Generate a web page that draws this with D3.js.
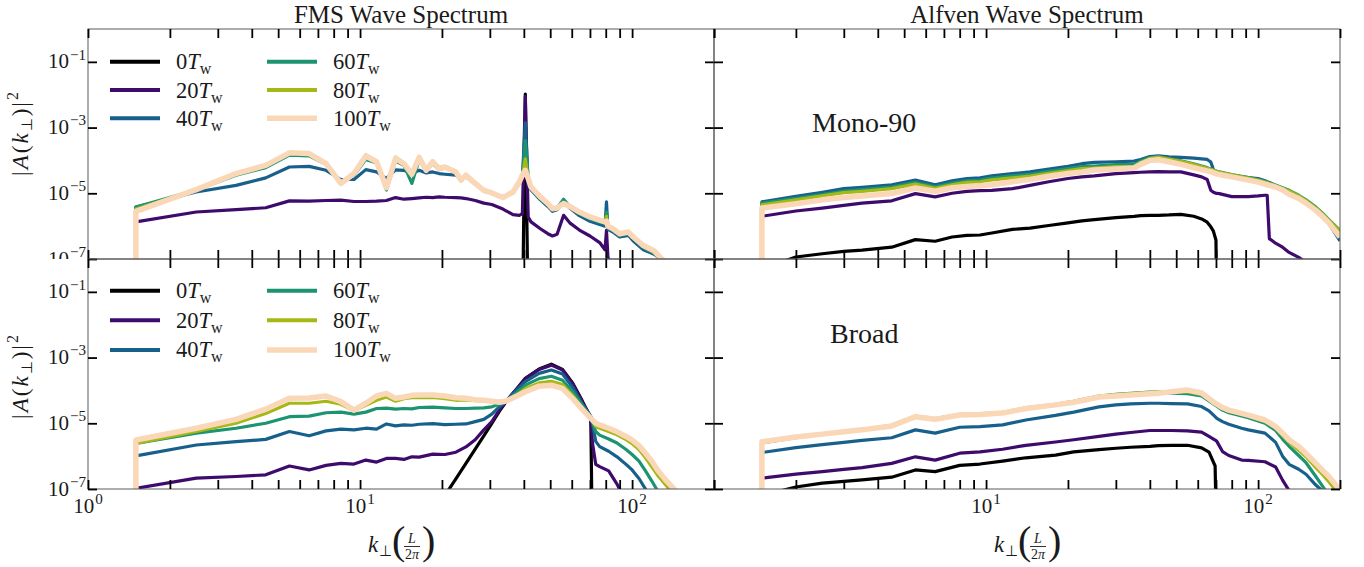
<!DOCTYPE html>
<html><head><meta charset="utf-8">
<script src="https://cdn.jsdelivr.net/npm/d3@7"></script>
<style>
body{margin:0;background:#fff}
svg{display:block}
text{font-family:'Liberation Serif','Times New Roman',serif;fill:#1a1a1a}
</style>
</head><body>
<svg id="chart" width="1364" height="567"></svg>
<script>
// ---------------- DATA (spectral values stored as log10 |A(k)|^2) ----------------
const timeLabels = ['0', '20', '40', '60', '80', '100'];
const panelTitles = ['FMS Wave Spectrum', 'Alfven Wave Spectrum'];
const caseLabels = ['Mono-90', 'Broad'];
const xTickLabelValues = [1, 10, 100];
const yTickValues = [1e-1, 1e-3, 1e-5, 1e-7];
const yTickExponents = ['\u22121', '\u22123', '\u22125', '\u22127'];

// FMS spectrum, Mono-90 case
const kFmsMono = [1.5,1.5,2.5,3.5,4.5,5.5,6.5,7.5,8.5,9.5,
 10.5,11.5,12.5,13.5,14.5,15.5,16.5,17.5,18.5,19.5,
 20.5,22.5,23.5,24.5,26.5,28.5,30.5,33.5,36.5,38.5,
 39.5,40.5,41.5,42.5,46,49,51,53,56,59,
 64,70,76,79.5,80.5,81.5,85,90,97,101,
 110,120,130,140,150];
const fmsMono0T = [
 -9,-9,-9,-9,-9,-9,-9,-9,-9,-9,
 -9,-9,-9,-9,-9,-9,-9,-9,-9,-9,
 -9,-9,-9,-9,-9,-9,-9,-9,-9,-9,
 -9,-1.98,-9,-9,-9,-9,-9,-9,-9,-9,
 -9,-9,-9,-9,-9,-9,-9,-9,-9,-9,
 -9,-9,-9,-9,-9];
const fmsMono20T = [
 -9,-5.87,-5.57,-5.50,-5.44,-5.23,-5.24,-5.22,-5.21,-5.25,
 -5.25,-5.24,-5.22,-5.13,-5.18,-5.16,-5.14,-5.12,-5.13,-5.11,
 -5.12,-5.13,-5.14,-5.16,-5.22,-5.30,-5.34,-5.48,-5.65,-5.67,
 -5.62,-2.05,-5.72,-5.87,-6.08,-6.23,-6.30,-6.25,-5.67,-5.90,
 -6.12,-6.30,-6.50,-6.72,-6.13,-6.95,-7.30,-7.60,-8.0,-8.2,
 -8.5,-8.8,-9,-9,-9];
const fmsMono40T = [
 -9,-5.42,-4.96,-4.76,-4.53,-4.20,-4.18,-4.30,-4.58,-4.58,
 -4.28,-4.35,-4.55,-4.29,-4.30,-4.40,-4.30,-4.38,-4.35,-4.40,
 -4.42,-4.45,-4.55,-4.50,-4.72,-4.93,-5.00,-5.14,-4.98,-4.70,
 -4.50,-2.85,-4.65,-4.90,-5.20,-5.40,-5.55,-5.50,-5.25,-5.45,
 -5.68,-5.85,-5.95,-6.00,-5.26,-6.10,-6.18,-6.33,-6.28,-6.45,
 -6.72,-6.85,-7.00,-7.30,-7.60];
const fmsMono60T = [
 -9,-5.42,-4.90,-4.45,-4.22,-3.84,-3.86,-4.12,-4.66,-4.45,
 -3.97,-4.08,-4.90,-4.02,-4.15,-4.70,-3.98,-4.30,-4.10,-4.28,
 -4.22,-4.38,-4.62,-4.47,-4.71,-4.92,-5.00,-5.14,-4.98,-4.68,
 -4.50,-3.40,-4.60,-4.85,-5.15,-5.36,-5.50,-5.45,-5.18,-5.40,
 -5.62,-5.78,-5.88,-5.92,-5.57,-6.05,-6.12,-6.28,-6.22,-6.38,
 -6.65,-6.82,-7.10,-7.40,-7.70];
const fmsMono80T = [
 -9,-5.48,-4.89,-4.42,-4.17,-3.76,-3.79,-4.10,-4.70,-4.38,
 -3.83,-4.02,-4.80,-3.90,-4.08,-4.42,-3.88,-4.28,-4.02,-4.22,
 -4.18,-4.33,-4.58,-4.43,-4.69,-4.90,-4.98,-5.12,-4.96,-4.65,
 -4.46,-3.95,-4.56,-4.82,-5.12,-5.32,-5.48,-5.47,-5.30,-5.40,
 -5.58,-5.74,-5.84,-5.89,-5.70,-6.02,-6.09,-6.25,-6.20,-6.35,
 -6.62,-6.78,-7.06,-7.35,-7.65];
const fmsMono100T = [
 -9,-5.55,-4.89,-4.40,-4.15,-3.77,-3.79,-4.10,-4.70,-4.40,
 -3.87,-4.04,-4.83,-3.94,-4.10,-4.42,-3.91,-4.30,-4.04,-4.25,
 -4.20,-4.35,-4.60,-4.45,-4.70,-4.91,-4.99,-5.13,-4.96,-4.65,
 -4.45,-4.30,-4.55,-4.81,-5.11,-5.31,-5.47,-5.45,-5.31,-5.40,
 -5.57,-5.72,-5.82,-5.87,-5.85,-6.00,-6.08,-6.23,-6.18,-6.33,
 -6.59,-6.74,-7.04,-7.30,-7.60];

// Alfven spectrum, Mono-90 case
const kAlfMono = [1.5,1.5,2,2.5,3,3.5,4.5,5.5,6.5,7.5,
 8.5,9.5,10.5,12.5,14.5,17,20,22.5,25,30,
 35,37,40,43,47,52,58,62,65,67,
 68.5,70,70.5,72,80,92,100,106,108,110,
 115,123,130,141,150,163,172,182,200];
const alfMono0T = [
 -9,-7.3,-6.94,-6.84,-6.77,-6.73,-6.64,-6.41,-6.46,-6.33,
 -6.28,-6.27,-6.21,-6.10,-6.06,-5.98,-5.90,-5.84,-5.80,-5.74,
 -5.70,-5.68,-5.67,-5.67,-5.66,-5.64,-5.70,-5.78,-5.88,-6.02,
 -6.15,-6.43,-9,-9,-9,-9,-9,-9,-9,-9,
 -9,-9,-9,-9,-9,-9,-9,-9,-9];
const alfMono20T = [
 -9,-5.70,-5.54,-5.45,-5.37,-5.30,-5.23,-5.01,-5.11,-5.00,
 -4.94,-4.92,-4.91,-4.86,-4.76,-4.65,-4.55,-4.50,-4.47,-4.40,
 -4.37,-4.36,-4.35,-4.34,-4.35,-4.35,-4.44,-4.50,-4.58,-4.91,
 -4.97,-5.00,-5.00,-5.01,-5.10,-5.10,-5.08,-5.06,-5.06,-6.38,
 -6.50,-6.64,-6.80,-6.95,-7.10,-7.30,-7.45,-7.60,-7.90];
const alfMono40T = [
 -9,-5.26,-5.09,-4.97,-4.86,-4.82,-4.74,-4.60,-4.74,-4.62,
 -4.55,-4.53,-4.47,-4.40,-4.35,-4.26,-4.18,-4.10,-4.06,-4.04,
 -4.02,-3.97,-3.88,-3.86,-3.89,-3.91,-3.93,-3.95,-3.97,-4.05,
 -4.28,-4.33,-4.35,-4.38,-4.45,-4.52,-4.55,-4.62,-4.65,-4.67,
 -4.75,-4.86,-4.93,-5.11,-5.28,-5.52,-5.72,-5.92,-6.45];
const alfMono60T = [
 -9,-5.30,-5.15,-5.04,-4.93,-4.89,-4.81,-4.67,-4.80,-4.69,
 -4.62,-4.60,-4.54,-4.47,-4.42,-4.33,-4.25,-4.19,-4.17,-4.13,
 -4.12,-4.02,-3.91,-3.88,-3.94,-4.01,-4.10,-4.17,-4.22,-4.26,
 -4.29,-4.32,-4.33,-4.35,-4.43,-4.52,-4.58,-4.64,-4.66,-4.68,
 -4.74,-4.83,-4.91,-5.06,-5.20,-5.42,-5.60,-5.80,-6.13];
const alfMono80T = [
 -9,-5.35,-5.20,-5.08,-4.98,-4.94,-4.86,-4.72,-4.85,-4.74,
 -4.67,-4.65,-4.59,-4.53,-4.48,-4.39,-4.31,-4.25,-4.23,-4.19,
 -4.18,-4.06,-3.94,-3.90,-3.96,-4.03,-4.12,-4.19,-4.24,-4.27,
 -4.30,-4.33,-4.34,-4.36,-4.44,-4.54,-4.60,-4.66,-4.68,-4.70,
 -4.76,-4.85,-4.93,-5.08,-5.22,-5.45,-5.62,-5.82,-6.15];
const alfMono100T = [
 -9,-5.45,-5.32,-5.20,-5.13,-5.08,-5.01,-4.84,-4.94,-4.83,
 -4.79,-4.77,-4.74,-4.65,-4.58,-4.48,-4.40,-4.35,-4.29,-4.26,
 -4.23,-4.12,-4.00,-3.98,-4.04,-4.12,-4.22,-4.28,-4.32,-4.34,
 -4.37,-4.40,-4.41,-4.43,-4.50,-4.60,-4.66,-4.72,-4.74,-4.76,
 -4.80,-4.90,-5.03,-5.16,-5.30,-5.52,-5.70,-5.90,-6.33];

// FMS spectrum, Broad case
const kFmsBroad = [1.5,1.5,2.5,3.5,4.5,5.5,6.5,7.5,8.5,9.5,
 10.5,11.5,12.5,13.5,14.5,15.5,16.5,18.5,20.5,22.5,
 24.5,26.5,28.5,30.5,32.5,34.5,37.5,40.5,45.5,50.5,
 55.5,60.5,65.5,70.5,71.5,73.5,76,82,88,95,
 100,106,112,118,124,132,140,150];
const fmsBroad0T = [
 -9,-9,-9,-9,-9,-9,-9,-9,-9,-9,
 -9,-9,-9,-9,-9,-9,-9,-7.8,-7.2,-6.69,
 -6.22,-5.79,-5.38,-5.00,-4.64,-4.33,-3.97,-3.63,-3.35,-3.20,
 -3.36,-3.78,-4.31,-4.85,-9,-9,-9,-9,-9,-9,
 -9,-9,-9,-9,-9,-9,-9,-9];
const fmsBroad20T = [
 -9,-6.98,-6.67,-6.62,-6.57,-6.30,-6.42,-6.28,-6.22,-6.24,
 -6.12,-6.18,-6.07,-6.07,-6.10,-6.02,-6.03,-5.94,-5.95,-5.88,
 -5.72,-5.50,-5.20,-4.95,-4.60,-4.32,-3.97,-3.65,-3.36,-3.23,
 -3.38,-3.80,-4.34,-4.80,-5.60,-6.25,-6.32,-6.45,-6.85,-7.40,
 -7.80,-8.20,-8.60,-9,-9,-9,-9,-9];
const fmsBroad40T = [
 -9,-5.99,-5.66,-5.56,-5.49,-5.25,-5.38,-5.23,-5.18,-5.20,
 -5.15,-5.18,-5.02,-5.08,-5.05,-5.06,-5.03,-5.01,-5.04,-5.03,
 -5.02,-4.95,-4.88,-4.72,-4.50,-4.32,-4.00,-3.73,-3.48,-3.38,
 -3.50,-3.91,-4.40,-4.80,-5.00,-5.55,-5.71,-5.85,-6.02,-6.25,
 -6.42,-6.68,-7.00,-7.30,-7.60,-8.00,-8.30,-8.60];
const fmsBroad60T = [
 -9,-5.61,-5.30,-5.15,-5.00,-4.80,-4.78,-4.68,-4.66,-4.72,
 -4.66,-4.55,-4.54,-4.57,-4.55,-4.56,-4.52,-4.51,-4.53,-4.55,
 -4.55,-4.54,-4.53,-4.50,-4.42,-4.32,-4.08,-3.84,-3.64,-3.57,
 -3.69,-4.04,-4.45,-4.80,-4.95,-5.25,-5.36,-5.48,-5.60,-5.80,
 -5.95,-6.15,-6.45,-6.75,-7.05,-7.40,-7.70,-8.00];
const fmsBroad80T = [
 -9,-5.61,-5.25,-5.00,-4.70,-4.39,-4.39,-4.33,-4.42,-4.62,
 -4.45,-4.30,-4.20,-4.33,-4.25,-4.22,-4.22,-4.21,-4.25,-4.30,
 -4.29,-4.31,-4.32,-4.33,-4.33,-4.32,-4.15,-3.94,-3.77,-3.72,
 -3.82,-4.15,-4.52,-4.83,-4.92,-5.10,-5.15,-5.25,-5.35,-5.50,
 -5.62,-5.80,-6.05,-6.32,-6.58,-6.85,-7.10,-7.40];
const fmsBroad100T = [
 -9,-5.51,-5.15,-4.88,-4.57,-4.24,-4.23,-4.17,-4.34,-4.60,
 -4.39,-4.17,-4.09,-4.24,-4.20,-4.15,-4.14,-4.14,-4.17,-4.22,
 -4.24,-4.28,-4.30,-4.33,-4.36,-4.32,-4.18,-4.04,-3.87,-3.84,
 -3.94,-4.25,-4.57,-4.85,-4.90,-5.00,-5.05,-5.15,-5.26,-5.40,
 -5.51,-5.68,-5.91,-6.15,-6.42,-6.70,-6.93,-7.20];

// Alfven spectrum, Broad case
const kAlfBroad = [1.5,1.5,2,2.5,3,3.5,4.5,5.5,6.5,8,
 9.5,11.5,14,18,21,26,30,34,40,43,
 48,55,62,66,69.5,70.5,74,78,87,92,
 106,116,123,130,141,150,163,172,182,200];
const alfBroad0T = [
 -9,-7.2,-6.94,-6.82,-6.77,-6.72,-6.64,-6.42,-6.47,-6.28,
 -6.24,-6.15,-6.05,-5.97,-5.87,-5.80,-5.76,-5.73,-5.70,-5.68,
 -5.67,-5.67,-5.75,-5.88,-6.30,-9,-9,-9,-9,-9,
 -9,-9,-9,-9,-9,-9,-9,-9,-9,-9];
const alfBroad20T = [
 -9,-6.67,-6.55,-6.47,-6.40,-6.35,-6.22,-6.02,-6.12,-5.91,
 -5.87,-5.79,-5.67,-5.57,-5.50,-5.40,-5.33,-5.28,-5.22,-5.22,
 -5.22,-5.23,-5.27,-5.40,-5.51,-5.55,-5.86,-5.98,-6.12,-6.13,
 -6.17,-6.33,-6.73,-7.05,-7.40,-7.70,-8.00,-8.20,-8.40,-8.80];
const alfBroad40T = [
 -9,-5.89,-5.74,-5.65,-5.58,-5.52,-5.44,-5.20,-5.30,-5.12,
 -5.10,-5.05,-4.90,-4.76,-4.66,-4.50,-4.44,-4.41,-4.39,-4.39,
 -4.40,-4.41,-4.49,-4.62,-4.80,-4.85,-4.95,-5.03,-5.15,-5.20,
 -5.30,-5.58,-6.00,-6.25,-6.40,-6.55,-6.88,-7.05,-7.30,-7.70];
const alfBroad60T = [
 -9,-5.60,-5.44,-5.34,-5.27,-5.21,-5.08,-4.80,-4.88,-4.75,
 -4.72,-4.68,-4.54,-4.43,-4.33,-4.17,-4.12,-4.09,-4.05,-4.06,
 -4.08,-4.10,-4.17,-4.32,-4.45,-4.48,-4.60,-4.68,-4.78,-4.83,
 -5.00,-5.22,-5.48,-5.70,-5.98,-6.20,-6.62,-6.90,-7.20,-7.60];
const alfBroad80T = [
 -9,-5.58,-5.42,-5.32,-5.25,-5.19,-5.06,-4.78,-4.86,-4.73,
 -4.71,-4.67,-4.53,-4.42,-4.33,-4.18,-4.13,-4.10,-4.06,-4.05,
 -4.05,-4.04,-4.12,-4.28,-4.42,-4.45,-4.55,-4.63,-4.73,-4.78,
 -4.95,-5.15,-5.37,-5.58,-5.82,-6.02,-6.35,-6.55,-6.78,-7.20];
const alfBroad100T = [
 -9,-5.56,-5.42,-5.33,-5.26,-5.20,-5.08,-4.80,-4.88,-4.75,
 -4.73,-4.69,-4.55,-4.44,-4.36,-4.20,-4.17,-4.14,-4.10,-4.09,
 -4.04,-3.99,-4.08,-4.25,-4.39,-4.42,-4.52,-4.60,-4.70,-4.75,
 -4.90,-5.10,-5.30,-5.50,-5.71,-5.92,-6.22,-6.42,-6.62,-7.03];

// ---------------- STYLE / LAYOUT ----------------
const seriesColors = ['#000000', '#3e0b6c', '#17608b', '#1d9471', '#a6b816', '#fad7b6'];
const seriesWidths = [3.2, 3.2, 3.2, 3.2, 3.2, 5.5];
const L = {x0: 88, xm: 714, x1: 1340, y0: 29, ym: 259, y1: 489};

const panels = [
  {k: kFmsMono,  s: [fmsMono0T, fmsMono20T, fmsMono40T, fmsMono60T, fmsMono80T, fmsMono100T], col: 0, row: 0},
  {k: kAlfMono,  s: [alfMono0T, alfMono20T, alfMono40T, alfMono60T, alfMono80T, alfMono100T], col: 1, row: 0},
  {k: kFmsBroad, s: [fmsBroad0T, fmsBroad20T, fmsBroad40T, fmsBroad60T, fmsBroad80T, fmsBroad100T], col: 0, row: 1},
  {k: kAlfBroad, s: [alfBroad0T, alfBroad20T, alfBroad40T, alfBroad60T, alfBroad80T, alfBroad100T], col: 1, row: 1}
];

const svg = d3.select('#chart');
const defs = svg.append('defs');

function supLabel(g, x, y, base, exp, anchor, size) {
  const t = g.append('text').attr('x', x).attr('y', y).attr('text-anchor', anchor).style('font-size', size + 'px');
  t.append('tspan').text(base);
  t.append('tspan').attr('dx', 1).attr('dy', -size * 0.42).style('font-size', (size * 0.72) + 'px').text(exp);
  return t;
}

panels.forEach((p, pi) => {
  const px0 = p.col === 0 ? L.x0 : L.xm, px1 = p.col === 0 ? L.xm : L.x1;
  const py0 = p.row === 0 ? L.y0 : L.ym, py1 = p.row === 0 ? L.ym : L.y1;
  const x = d3.scaleLog().domain([1, 200]).range([px0, px1]);
  const y = d3.scaleLog().domain([1e-7, 1]).range([py1, py0]);
  const g = svg.append('g');

  defs.append('clipPath').attr('id', 'clip' + pi).append('rect')
    .attr('x', px0).attr('y', py0).attr('width', px1 - px0).attr('height', py1 - py0);

  const line = d3.line().x(d => x(d[0])).y(d => y(d[1]));
  const lg = g.append('g').attr('clip-path', 'url(#clip' + pi + ')');
  p.s.forEach((vals, i) => {
    const pts = p.k.map((kk, j) => [kk, Math.pow(10, vals[j])]);
    lg.append('path').datum(pts).attr('d', line)
      .attr('fill', 'none').attr('stroke', seriesColors[i]).attr('stroke-width', seriesWidths[i])
      .attr('stroke-linejoin', 'round').attr('stroke-linecap', 'butt');
  });

  // frame
  g.append('rect').attr('x', px0).attr('y', py0).attr('width', px1 - px0).attr('height', py1 - py0)
    .attr('fill', 'none').attr('stroke', '#5a5a5a').attr('stroke-width', 1);

  // inward ticks on all four sides
  const tk = 9;
  const style = sel => { sel.select('.domain').remove(); sel.selectAll('line').attr('stroke', '#000').attr('stroke-width', 1.8); };
  g.append('g').attr('transform', `translate(0,${py1})`).call(d3.axisTop(x).tickValues(x.ticks()).tickSize(tk).tickFormat('')).call(style);
  g.append('g').attr('transform', `translate(0,${py0})`).call(d3.axisBottom(x).tickValues(x.ticks()).tickSize(tk).tickFormat('')).call(style);
  g.append('g').attr('transform', `translate(${px0},0)`).call(d3.axisRight(y).tickValues(yTickValues).tickSize(tk).tickFormat('')).call(style);
  g.append('g').attr('transform', `translate(${px1},0)`).call(d3.axisLeft(y).tickValues(yTickValues).tickSize(tk).tickFormat('')).call(style);

  // y tick labels on left panels
  if (p.col === 0) {
    const cid = 'lclip' + pi;
    defs.append('clipPath').attr('id', cid).append('rect').attr('x', 0).attr('y', py0 - 20).attr('width', px0).attr('height', p.row === 0 ? (py1 - py0 + 20) : (py1 - py0 + 40));
    const tl = g.append('g').attr('clip-path', `url(#${cid})`);
    yTickValues.forEach((v, i) => supLabel(tl, px0 - 2, y(v) + 6.5, '10', yTickExponents[i], 'end', 21));
    // y axis label |A(k_perp)|^2
    const cy = p.row === 0 ? 133 : 376;
    const t = g.append('text').attr('transform', `translate(28,${cy}) rotate(-90)`).attr('text-anchor', 'middle')
      .style('font-size', '23px').style('letter-spacing', '2px');
    t.append('tspan').text('|');
    t.append('tspan').style('font-style', 'italic').text('A');
    t.append('tspan').text('(');
    t.append('tspan').style('font-style', 'italic').text('k');
    t.append('tspan').attr('dy', 4).style('font-size', '15px').text('\u22a5');
    t.append('tspan').attr('dy', -4).text(')|');
    t.append('tspan').attr('dy', -10).style('font-size', '16px').text('2');

    // legend
    const ly0 = p.row === 0 ? 61.7 : 290.7;
    const lstep = p.row === 0 ? 28.3 : 29.6;
    timeLabels.forEach((lab, i) => {
      const c = Math.floor(i / 3), r = i % 3;
      const lx = c === 0 ? 110 : 267, ly = ly0 + r * lstep;
      g.append('line').attr('x1', lx).attr('x2', lx + 50).attr('y1', ly).attr('y2', ly)
        .attr('stroke', seriesColors[i]).attr('stroke-width', i === 5 ? 5.5 : 4);
      const tt = g.append('text').attr('x', lx + 66).attr('y', ly + 7.5).style('font-size', '22.5px');
      tt.append('tspan').text(lab);
      tt.append('tspan').style('font-style', 'italic').text('T');
      tt.append('tspan').attr('dy', 5).style('font-size', '16px').text('w');
    });
  }

  // x tick labels on bottom panels
  if (p.row === 1) {
    xTickLabelValues.forEach((v, i) => {
      if (p.col === 1 && v === 1) return;
      supLabel(g, x(v), py1 + 23.5, '10', String(i), 'middle', 21);
    });
    // x axis label k_perp (L / 2pi)
    const cx = (px0 + px1) / 2 - 1;
    const xl = g.append('g');
    xl.append('text').attr('x', cx - 32).attr('y', 551.5).style('font-style', 'italic').style('font-size', '23px').text('k');
    xl.append('text').attr('x', cx - 21).attr('y', 556).style('font-size', '15px').text('\u22a5');
    xl.append('text').attr('x', cx - 8).attr('y', 554).style('font-size', '40px').text('(');
    xl.append('text').attr('x', cx + 12).attr('y', 543).attr('text-anchor', 'middle').style('font-style', 'italic').style('font-size', '14px').text('L');
    xl.append('line').attr('x1', cx + 4).attr('x2', cx + 20).attr('y1', 546.5).attr('y2', 546.5).attr('stroke', '#1a1a1a').attr('stroke-width', 0.9);
    const fr = xl.append('text').attr('x', cx + 12).attr('y', 558.5).attr('text-anchor', 'middle').style('font-size', '14px');
    fr.append('tspan').text('2');
    fr.append('tspan').style('font-style', 'italic').text('\u03c0');
    xl.append('text').attr('x', cx + 22).attr('y', 554).style('font-size', '40px').text(')');
  }

  // titles and case labels
  if (p.row === 0) {
    svg.append('text').attr('x', (px0 + px1) / 2).attr('y', 23).attr('text-anchor', 'middle')
      .style('font-size', '25px').text(panelTitles[p.col]);
  }
  if (p.col === 1) {
    svg.append('text').attr('x', p.row === 0 ? 812 : 830).attr('y', p.row === 0 ? 132 : 343)
      .style('font-size', '28px').text(caseLabels[p.row]);
  }
});
</script>
</body></html>
